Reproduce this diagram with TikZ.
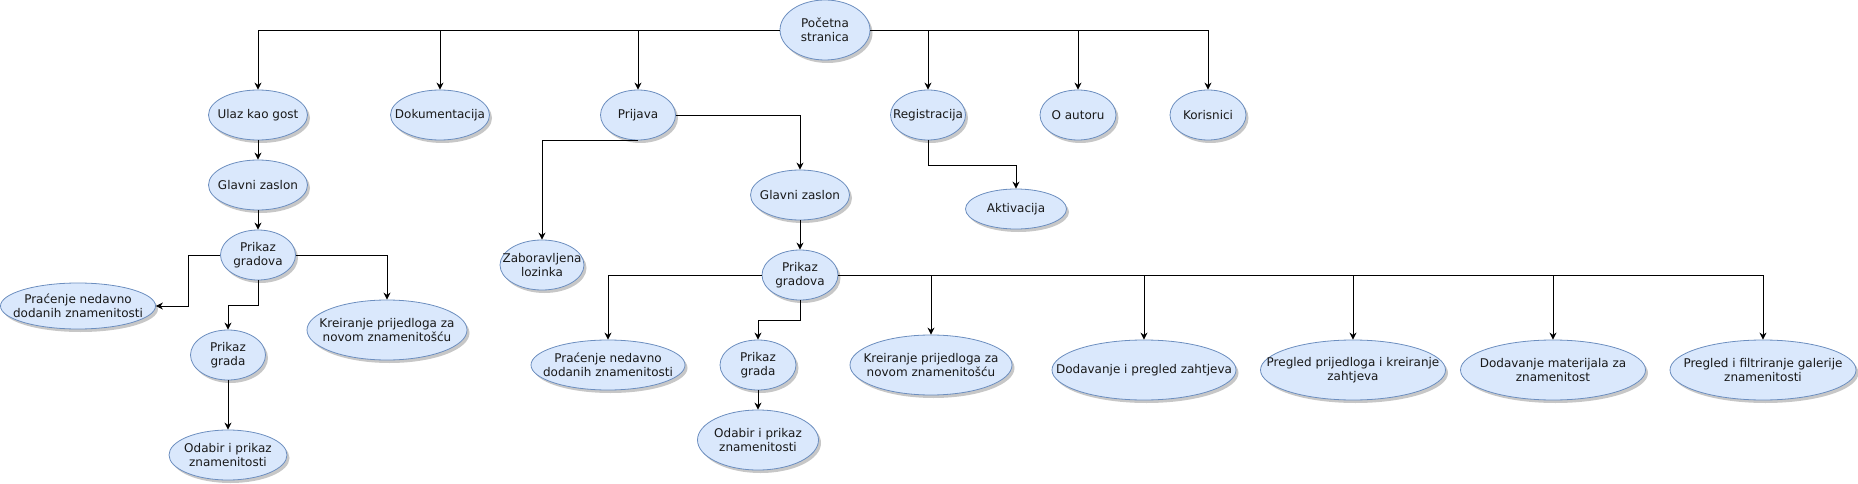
\documentclass[tikz,border=0pt]{standalone}
\usepackage{fontspec}
\setmainfont{DejaVu Sans}
\usepackage{xcolor}
\usepackage{tikz}
\usetikzlibrary{arrows.meta, shapes.geometric, shadows}

\definecolor{ucfill}{HTML}{DAE8FC}
\definecolor{ucline}{HTML}{6C8EBF}

\begin{document}
\begin{tikzpicture}[
    x=1pt, y=-1pt,
    uctext/.style={font=\fontsize{12}{14.4}\selectfont, align=center, text=black!90},
    uc/.style n args={3}{ellipse, draw=ucline, fill=ucfill, line width=0.8pt,
      inner sep=0pt, minimum width=#1, minimum height=#2,
      drop shadow={shadow xshift=2.5pt, shadow yshift=-3pt, opacity=0.22, fill=black},
      label={[uctext]center:#3}},
    arr/.style={-{Stealth[length=7pt, width=7pt]}, line width=0.9pt}
  ]
  \useasboundingbox (0,0) rectangle (1858,484);

  % top level
  \node[uc={90pt}{60pt}{Početna\\stranica}] (start) at (825,30) {};
  \node[uc={99pt}{50pt}{Ulaz kao gost}] (gost) at (258,115) {};
  \node[uc={99pt}{50pt}{Dokumentacija}] (dok) at (440,115) {};
  \node[uc={75pt}{50pt}{Prijava}] (prijava) at (638,115) {};
  \node[uc={75pt}{50pt}{Registracija}] (reg) at (928,115) {};
  \node[uc={76pt}{50pt}{O autoru}] (autor) at (1078,115) {};
  \node[uc={76pt}{50pt}{Korisnici}] (kor) at (1208,115) {};

  % gost
  \node[uc={99pt}{50pt}{Glavni zaslon}] (glavniA) at (258,185) {};
  \node[uc={75pt}{50pt}{Prikaz\\gradova}] (gradoviA) at (258,255) {};
  \node[uc={155pt}{46pt}{Praćenje nedavno\\dodanih znamenitosti}] (pracenjeA) at (78,306) {};
  \node[uc={160pt}{60pt}{Kreiranje prijedloga za\\novom znamenitošću}] (kreiranjeA) at (387,330) {};
  \node[uc={75pt}{50pt}{Prikaz\\grada}] (gradA) at (228,355) {};
  \node[uc={118pt}{50pt}{Odabir i prikaz\\znamenitosti}] (odabirA) at (228,455) {};

  % prijava
  \node[uc={84pt}{50pt}{Zaboravljena\\lozinka}] (zab) at (542,265) {};
  \node[uc={99pt}{50pt}{Glavni zaslon}] (glavniB) at (800,195) {};
  \node[uc={76pt}{50pt}{Prikaz\\gradova}] (gradoviB) at (800,275) {};
  \node[uc={154pt}{50pt}{Praćenje nedavno\\dodanih znamenitosti}] (pracenjeB) at (608,365) {};
  \node[uc={76pt}{50pt}{Prikaz\\grada}] (gradB) at (758,365) {};
  \node[uc={121pt}{60pt}{Odabir i prikaz\\znamenitosti}] (odabirB) at (758,440) {};
  \node[uc={162pt}{60pt}{Kreiranje prijedloga za\\novom znamenitošću}] (kreiranjeB) at (931,365) {};
  \node[uc={184pt}{60pt}{Dodavanje i pregled zahtjeva}] (dodZ) at (1144,370) {};
  \node[uc={185pt}{60pt}{Pregled prijedloga i kreiranje\\zahtjeva}] (pregP) at (1353,370) {};
  \node[uc={185pt}{60pt}{Dodavanje materijala za\\znamenitost}] (dodM) at (1553,370) {};
  \node[uc={186pt}{60pt}{Pregled i filtriranje galerije\\znamenitosti}] (pregF) at (1763,370) {};

  % registracija
  \node[uc={101pt}{40pt}{Aktivacija}] (akt) at (1016,209) {};

  % connectors
  \draw[arr] (start.west) -| (gost.north);
  \draw[arr] (start.west) -| (dok.north);
  \draw[arr] (start.west) -| (prijava.north);
  \draw[arr] (start.east) -| (reg.north);
  \draw[arr] (start.east) -| (autor.north);
  \draw[arr] (start.east) -| (kor.north);

  \draw[arr] (gost) -- (glavniA);
  \draw[arr] (glavniA) -- (gradoviA);
  \draw[arr] (gradoviA.west) -- ++(-32,0) |- (pracenjeA.east);
  \draw[arr] (gradoviA.east) -| (kreiranjeA.north);
  \draw[arr] (gradoviA.south) -- ++(0,25) -| (gradA.north);
  \draw[arr] (gradA) -- (odabirA);

  \draw[arr] (prijava.south) -| (zab.north);
  \draw[arr] (prijava.east) -| (glavniB.north);
  \draw[arr] (glavniB) -- (gradoviB);
  \draw[arr] (gradoviB.west) -| (pracenjeB.north);
  \draw[arr] (gradoviB.south) -- ++(0,20) -| (gradB.north);
  \draw[arr] (gradB) -- (odabirB);
  \draw[arr] (gradoviB.east) -| (kreiranjeB.north);
  \draw[arr] (gradoviB.east) -| (dodZ.north);
  \draw[arr] (gradoviB.east) -| (pregP.north);
  \draw[arr] (gradoviB.east) -| (dodM.north);
  \draw[arr] (gradoviB.east) -| (pregF.north);

  \draw[arr] (reg.south) -- ++(0,25) -| (akt.north);
\end{tikzpicture}
\end{document}
